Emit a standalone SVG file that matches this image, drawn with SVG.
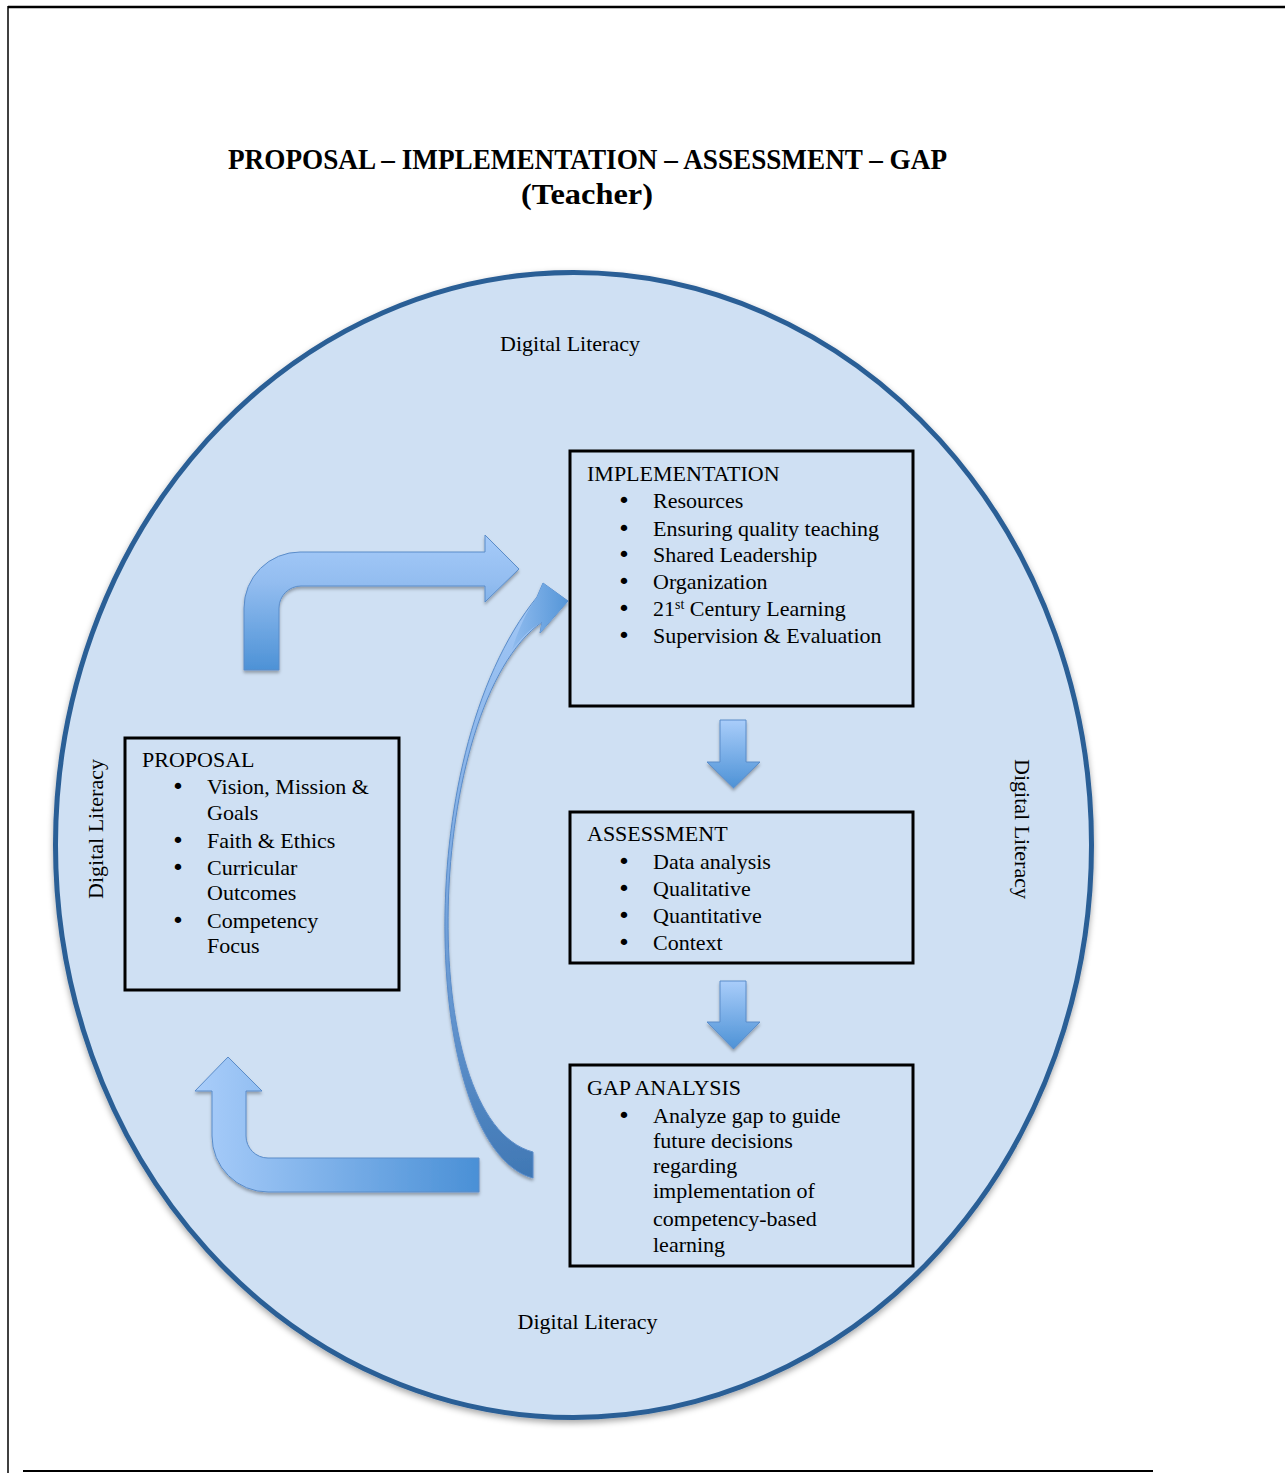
<svg xmlns="http://www.w3.org/2000/svg" width="1285" height="1473" viewBox="0 0 1285 1473">
<style>
.t{font-family:"Liberation Serif","Times New Roman",serif;font-size:22px;fill:#000}
.b{font-family:"DejaVu Sans","Liberation Sans",sans-serif;font-size:22px;fill:#000}
.title{font-family:"Liberation Serif","Times New Roman",serif;font-weight:bold;font-size:30px;fill:#000}
.box{fill:none;stroke:#000;stroke-width:3}
.arr{stroke:#5a8cc9;stroke-width:1}
</style>
<defs>
<filter id="sh" x="-10%" y="-10%" width="130%" height="130%">
<feDropShadow dx="0" dy="2.5" stdDeviation="1.5" flood-color="#000" flood-opacity="0.3"/>
</filter>
<filter id="esh" x="-5%" y="-5%" width="110%" height="110%">
<feDropShadow dx="0" dy="3" stdDeviation="3" flood-color="#000" flood-opacity="0.35"/>
</filter>
<linearGradient id="gv" x1="0" y1="0" x2="0" y2="1">
<stop offset="0" stop-color="#a9cdfa"/>
<stop offset="1" stop-color="#4d92d6"/>
</linearGradient>
<linearGradient id="gTop" gradientUnits="userSpaceOnUse" x1="0" y1="535" x2="0" y2="670">
<stop offset="0" stop-color="#a6cbf9"/>
<stop offset="0.35" stop-color="#93bdf0"/>
<stop offset="1" stop-color="#4d92d6"/>
</linearGradient>
<linearGradient id="gBot" gradientUnits="userSpaceOnUse" x1="195" y1="0" x2="479" y2="0">
<stop offset="0" stop-color="#a9cdfa"/>
<stop offset="1" stop-color="#4a90d6"/>
</linearGradient>
<linearGradient id="gCurve" gradientUnits="userSpaceOnUse" x1="470" y1="640" x2="540" y2="1180">
<stop offset="0" stop-color="#9cc3f3"/>
<stop offset="0.45" stop-color="#7aa8e0"/>
<stop offset="1" stop-color="#3f77b4"/>
</linearGradient>
<linearGradient id="gHead" gradientUnits="userSpaceOnUse" x1="500" y1="0" x2="568" y2="0">
<stop offset="0" stop-color="#9cc3f3"/>
<stop offset="1" stop-color="#5596d8"/>
</linearGradient>
</defs>

<rect x="0" y="0" width="1285" height="1473" fill="#fff"/>
<g id="page-border" stroke="#000">
<line x1="8" y1="7" x2="1285" y2="7" stroke-width="2.5"/>
<line x1="8" y1="6" x2="8" y2="1473" stroke-width="1.5"/>
<line x1="23" y1="1471" x2="1153" y2="1471" stroke-width="2"/>
</g>

<g id="title">
<text class="title" x="587.5" y="169" text-anchor="middle" textLength="719" lengthAdjust="spacingAndGlyphs">PROPOSAL – IMPLEMENTATION – ASSESSMENT – GAP</text>
<text class="title" x="587" y="204" text-anchor="middle" textLength="132" lengthAdjust="spacingAndGlyphs">(Teacher)</text>
</g>

<g id="digital-literacy-circle">
<ellipse cx="573.5" cy="845" rx="518" ry="572.5" fill="#cfe0f3" stroke="#2b5f96" stroke-width="5" filter="url(#esh)"/>
<text class="t" x="570" y="351" text-anchor="middle">Digital Literacy</text>
<text class="t" x="587.5" y="1329" text-anchor="middle">Digital Literacy</text>
<text class="t" transform="translate(103,829) rotate(-90)" text-anchor="middle">Digital Literacy</text>
<text class="t" transform="translate(1015,829) rotate(90)" text-anchor="middle">Digital Literacy</text>
</g>

<g id="connectors">
<path id="arrow-gap-to-proposal" class="arr" fill="url(#gBot)" filter="url(#sh)" d="M228,1057 L262,1091 L246,1091 L246,1136 A22,22 0 0 0 268,1158 L479,1158 L479,1192 L268,1192 A56,56 0 0 1 212,1136 L212,1091 L195,1091 Z"/>
<path id="arrow-proposal-to-implementation" class="arr" fill="url(#gTop)" filter="url(#sh)" d="M244,670 L244,608 A56,56 0 0 1 300,552 L485,552 L485,535 L519,569 L485,602 L485,586 L301,586 A22,22 0 0 0 279,608 L279,670 Z"/>
<path id="arrow-gap-to-implementation" class="arr" fill="url(#gCurve)" filter="url(#sh)" d="M533,1178 C425,1150 405,760 537,597 L543,583 L568,601 L540,633 L542,622 C425,705 412,1120 533,1152 Z"/>
<path fill="url(#gHead)" d="M537,597 L543,583 L568,601 L540,633 L542,622 C528,630 520,640 512,650 C518,630 526,612 537,597 Z"/>
<path id="arrow-implementation-to-assessment" class="arr" fill="url(#gv)" filter="url(#sh)" d="M720,720 L746,720 L746,762 L760,762 L733.5,788 L707,762 L720,762 Z"/>
<path id="arrow-assessment-to-gap" class="arr" fill="url(#gv)" filter="url(#sh)" d="M720,981 L746,981 L746,1022 L760,1022 L733.5,1049 L707,1022 L720,1022 Z"/>
</g>

<g id="node-implementation">
<rect class="box" x="570" y="451" width="343" height="255"/>
<text class="t" x="587" y="481">IMPLEMENTATION</text>
<text class="b" x="617.5" y="508">•</text><text class="t" x="653" y="508">Resources</text>
<text class="b" x="617.5" y="536">•</text><text class="t" x="653" y="536">Ensuring quality teaching</text>
<text class="b" x="617.5" y="562">•</text><text class="t" x="653" y="562">Shared Leadership</text>
<text class="b" x="617.5" y="589">•</text><text class="t" x="653" y="589">Organization</text>
<text class="b" x="617.5" y="616">•</text><text class="t" x="653" y="616">21<tspan font-size="14" dy="-7">st</tspan><tspan dy="7"> Century Learning</tspan></text>
<text class="b" x="617.5" y="643">•</text><text class="t" x="653" y="643">Supervision &amp; Evaluation</text>
</g>

<g id="node-proposal">
<rect class="box" x="125" y="738" width="274" height="252"/>
<text class="t" x="142" y="767">PROPOSAL</text>
<text class="b" x="171.5" y="794">•</text><text class="t" x="207" y="794">Vision, Mission &amp;</text>
<text class="t" x="207" y="820">Goals</text>
<text class="b" x="171.5" y="848">•</text><text class="t" x="207" y="848">Faith &amp; Ethics</text>
<text class="b" x="171.5" y="875">•</text><text class="t" x="207" y="875">Curricular</text>
<text class="t" x="207" y="900">Outcomes</text>
<text class="b" x="171.5" y="928">•</text><text class="t" x="207" y="928">Competency</text>
<text class="t" x="207" y="953">Focus</text>
</g>

<g id="node-assessment">
<rect class="box" x="570" y="812" width="343" height="151"/>
<text class="t" x="587" y="841">ASSESSMENT</text>
<text class="b" x="617.5" y="869">•</text><text class="t" x="653" y="869">Data analysis</text>
<text class="b" x="617.5" y="896">•</text><text class="t" x="653" y="896">Qualitative</text>
<text class="b" x="617.5" y="923">•</text><text class="t" x="653" y="923">Quantitative</text>
<text class="b" x="617.5" y="950">•</text><text class="t" x="653" y="950">Context</text>
</g>

<g id="node-gap-analysis">
<rect class="box" x="570" y="1065" width="343" height="201"/>
<text class="t" x="587" y="1095">GAP ANALYSIS</text>
<text class="b" x="617.5" y="1123">•</text><text class="t" x="653" y="1123">Analyze gap to guide</text>
<text class="t" x="653" y="1148">future decisions</text>
<text class="t" x="653" y="1173">regarding</text>
<text class="t" x="653" y="1198">implementation of</text>
<text class="t" x="653" y="1226">competency-based</text>
<text class="t" x="653" y="1252">learning</text>
</g>
</svg>
